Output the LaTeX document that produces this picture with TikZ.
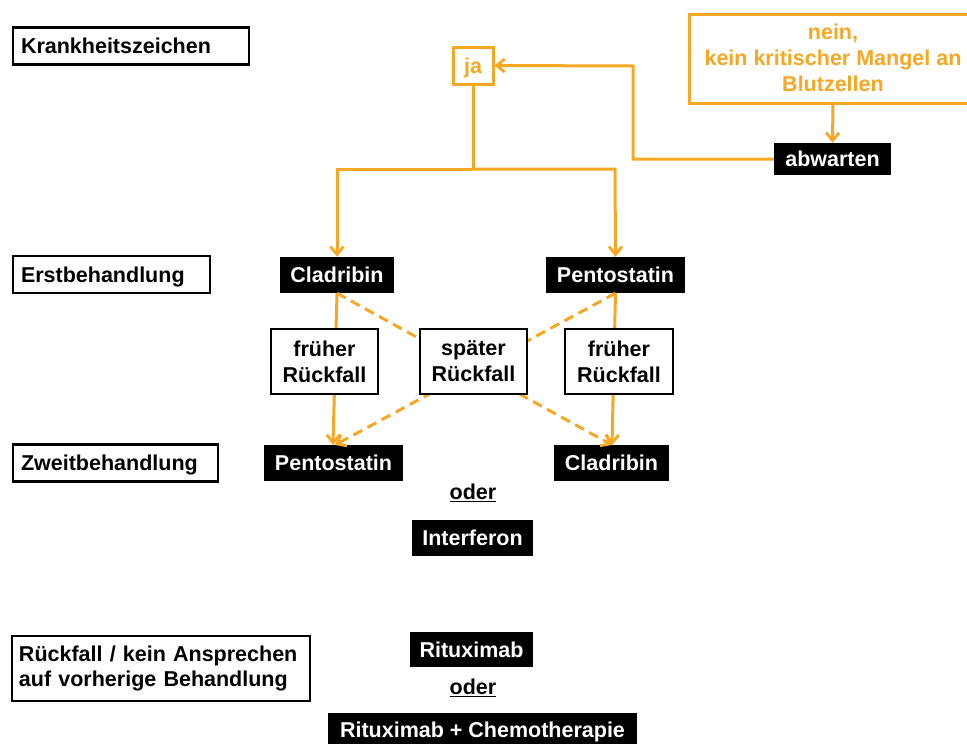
\documentclass[tikz,border=0pt]{standalone}
\usepackage{fontspec}
\setmainfont{Liberation Sans}
\usetikzlibrary{arrows.meta}
\definecolor{orng}{RGB}{246,168,36}
\tikzset{
  fnt/.style={font=\bfseries\fontsize{21.5}{26}\selectfont},
  one/.style={text height=15.5pt, text depth=0pt},
  lbl/.style={fnt, draw=black, line width=2.6pt, fill=white, inner sep=0pt, align=left},
  blk/.style={fnt, one, fill=black, text=white, inner sep=0pt},
  wbox/.style={fnt, draw=black, line width=2.6pt, fill=white, inner sep=0pt, align=center},
  obox/.style={fnt, draw=orng, line width=3pt, fill=white, text=orng, inner sep=0pt, align=center},
  oline/.style={draw=orng, line width=3pt},
  oarr/.style={oline, -{Straight Barb[length=8pt,width=13pt,line width=2.8pt]}},
  odash/.style={oarr, dash pattern=on 10pt off 6pt},
  oder/.style={fnt, inner sep=1pt}
}
\begin{document}
\begin{tikzpicture}[x=1pt,y=-1pt]
\useasboundingbox (0,0) rectangle (967,744);
% left labels
\node[lbl, one, minimum width=236pt, minimum height=37pt, text width=220pt] (k) at (131,46) {Krankheitszeichen};
\node[lbl, one, minimum width=197pt, minimum height=37pt, text width=181pt] (e) at (111.5,274.5) {Erstbehandlung};
\node[lbl, one, minimum width=205pt, minimum height=37pt, text width=189pt] (z) at (115.5,463) {Zweitbehandlung};
\node[lbl, minimum width=298pt, minimum height=65pt, text width=284pt, font=\bfseries\fontsize{21.5}{25}\selectfont] (r) at (161,668.5) {Rückfall / kein Ansprechen\\auf vorherige Behandlung};
% top
\node[obox, one, minimum width=40pt, minimum height=37pt] (ja) at (473,65.5) {ja};
\node[obox, minimum width=290pt, minimum height=89pt, anchor=north west] (nein) at (688,13) {};
\node[fnt, text=orng, align=center, inner sep=0pt] (neintxt) at (833,58) {nein,\\kein kritischer Mangel an\\Blutzellen};
\node[blk, minimum width=117pt, minimum height=32pt] (ab) at (832.5,159) {abwarten};
% first line
\node[blk, minimum width=114pt, minimum height=36pt] (c1) at (337,275) {Cladribin};
\node[blk, minimum width=139pt, minimum height=36pt] (p1) at (615.5,275) {Pentostatin};
% second line
\node[blk, minimum width=139pt, minimum height=36pt] (p2) at (333.5,463) {Pentostatin};
\node[blk, minimum width=115pt, minimum height=36pt] (c2) at (611.5,463) {Cladribin};
\node[oder] (o1) at (473,493) {\underline{oder}};
\node[blk, minimum width=121pt, minimum height=36pt] (if) at (472.5,538) {Interferon};
% lines
\coordinate (jb) at (473,169);
\coordinate (jl) at (337,169);
\coordinate (jr) at (615,169);
\draw[oline] (ja.south) -- (jb);
\draw[oarr] (jb) -- (jl) -- (c1.north);
\draw[oarr] (jb) -- (jr) -- (p1.north);
\draw[oarr] (833,102) -- (ab.north);
\coordinate (abl) at (633,159);
\coordinate (abt) at (633,66);
\draw[oarr] (ab.west) -- (abl) -- (abt) -- (ja.east);
% dashed
\draw[odash] (c1.south) -- (612,445);
\draw[odash] (p1.south) -- (335,445);
\draw[oarr] (c1.south) -- (333,445);
\draw[oarr] (p1.south) -- (612,445);
% relapse boxes
\node[wbox, minimum width=107pt, minimum height=65pt] (f1) at (324.5,361.5) {früher\\Rückfall};
\node[wbox, minimum width=107pt, minimum height=65pt] (sp) at (473.5,361.5) {später\\Rückfall};
\node[wbox, minimum width=108pt, minimum height=65pt] (f2) at (619,361.5) {früher\\Rückfall};
% bottom
\node[blk, minimum width=123pt, minimum height=35pt] (rx) at (471.5,649.5) {Rituximab};
\node[oder] (o2) at (473,688) {\underline{oder}};
\node[blk, minimum width=309pt, minimum height=34pt, anchor=north] (rc) at (482.5,713) {Rituximab + Chemotherapie};
\end{tikzpicture}
\end{document}
